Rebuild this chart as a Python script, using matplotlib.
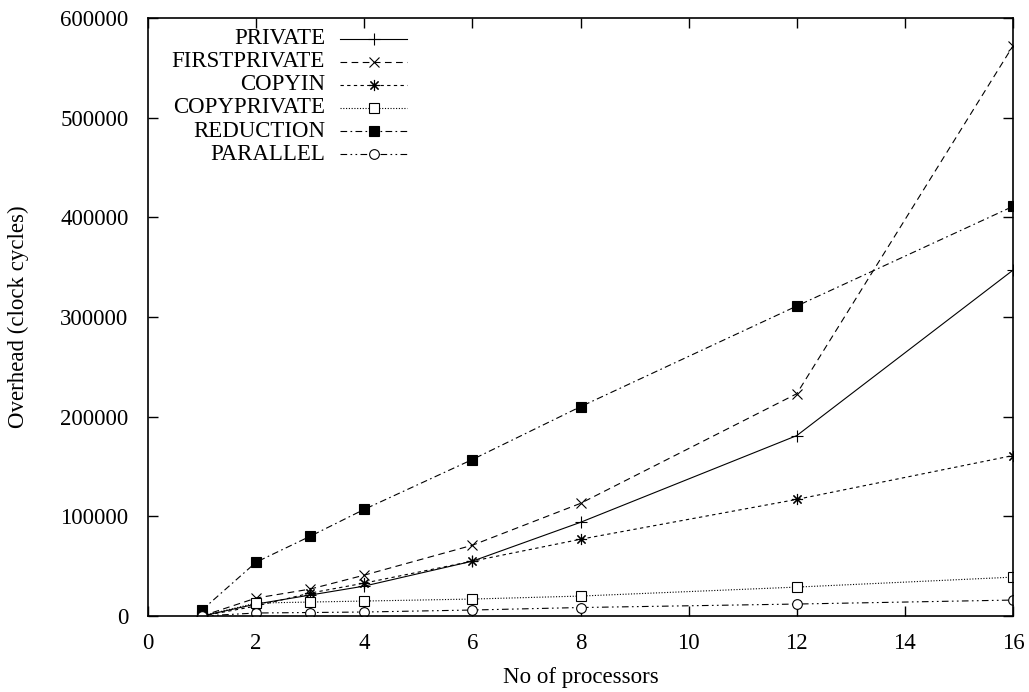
import matplotlib
matplotlib.use("Agg")
import matplotlib.pyplot as plt

plt.rcParams["font.family"] = ["Liberation Serif", "DejaVu Serif"]

# Data
procs = [1, 2, 3, 4, 6, 8, 12, 16]
private = [0, 12000, 21000, 30000, 55000, 94000, 181000, 347000]
firstprivate = [0, 18000, 27000, 41000, 71000, 113000, 223000, 572000]
copyin = [0, 10000, 23000, 33000, 55000, 77000, 117000, 161000]
copyprivate = [0, 13000, 14000, 15000, 17000, 20000, 29000, 39000]
reduction = [6000, 54000, 80000, 107000, 157000, 210000, 311000, 411000]
parallel = [0, 3000, 3500, 4000, 6000, 8500, 12000, 16000]

labels = ["PRIVATE", "FIRSTPRIVATE", "COPYIN", "COPYPRIVATE", "REDUCTION", "PARALLEL"]
series = [private, firstprivate, copyin, copyprivate, reduction, parallel]

styles = [
    dict(linestyle="-", marker="+", mfc="none", ms=8),
    dict(linestyle=(0, (6, 4)), marker="x", mfc="none", ms=7),
    dict(linestyle=(0, (3, 3)), marker=(8, 2, 0), mfc="none", ms=8),
    dict(linestyle=(0, (1, 1.5)), marker="s", mfc="white", ms=7),
    dict(linestyle=(0, (6, 3, 1.5, 3)), marker="s", mfc="black", ms=7.5),
    dict(linestyle=(0, (6, 3, 1.5, 3, 1.5, 3)), marker="o", mfc="white", ms=7),
]

fs = 16.5

fig = plt.figure(figsize=(10.29, 6.92), dpi=100)
ax = fig.add_axes([148 / 1029, 1 - 616 / 692, 865 / 1029, 598 / 692])

for vals, st in zip(series, styles):
    ax.plot(procs, vals, color="black", lw=0.8, mec="black", mew=0.8, **st)

ax.set_xlim(0, 16)
ax.set_ylim(0, 600000)
ax.set_xticks(range(0, 17, 2))
ax.set_yticks(range(0, 600001, 100000))
ax.tick_params(direction="in", length=7, width=1, top=True, right=True,
               labelsize=fs)
ax.tick_params(axis="x", pad=12)
ax.tick_params(axis="y", pad=14)
for s in ax.spines.values():
    s.set_linewidth(1.2)

ax.set_xlabel("No of processors", fontsize=fs, va="center")
ax.set_ylabel("Overhead (clock cycles)", fontsize=fs, va="center")
ax.xaxis.set_label_coords(0.5, (616 - 677) / 598)
ax.yaxis.set_label_coords((18 - 148) / 865, 0.5)

# gnuplot-style key: right-aligned text, sample line to the right
y0 = 0.965
dy = 0.0385
for i, (lab, st) in enumerate(zip(labels, styles)):
    y = y0 - i * dy
    ax.text(0.2046, y, lab, ha="right", va="center", fontsize=fs,
            transform=ax.transAxes)
    ax.plot([0.222, 0.299], [y, y], color="black", lw=0.8,
            linestyle=st["linestyle"], transform=ax.transAxes, clip_on=False)
    ax.plot([0.261], [y], color="black", linestyle="none", marker=st["marker"],
            mfc=st["mfc"], mec="black", mew=0.8, ms=st["ms"],
            transform=ax.transAxes, clip_on=False)

fig.savefig("out.png", dpi=100)
